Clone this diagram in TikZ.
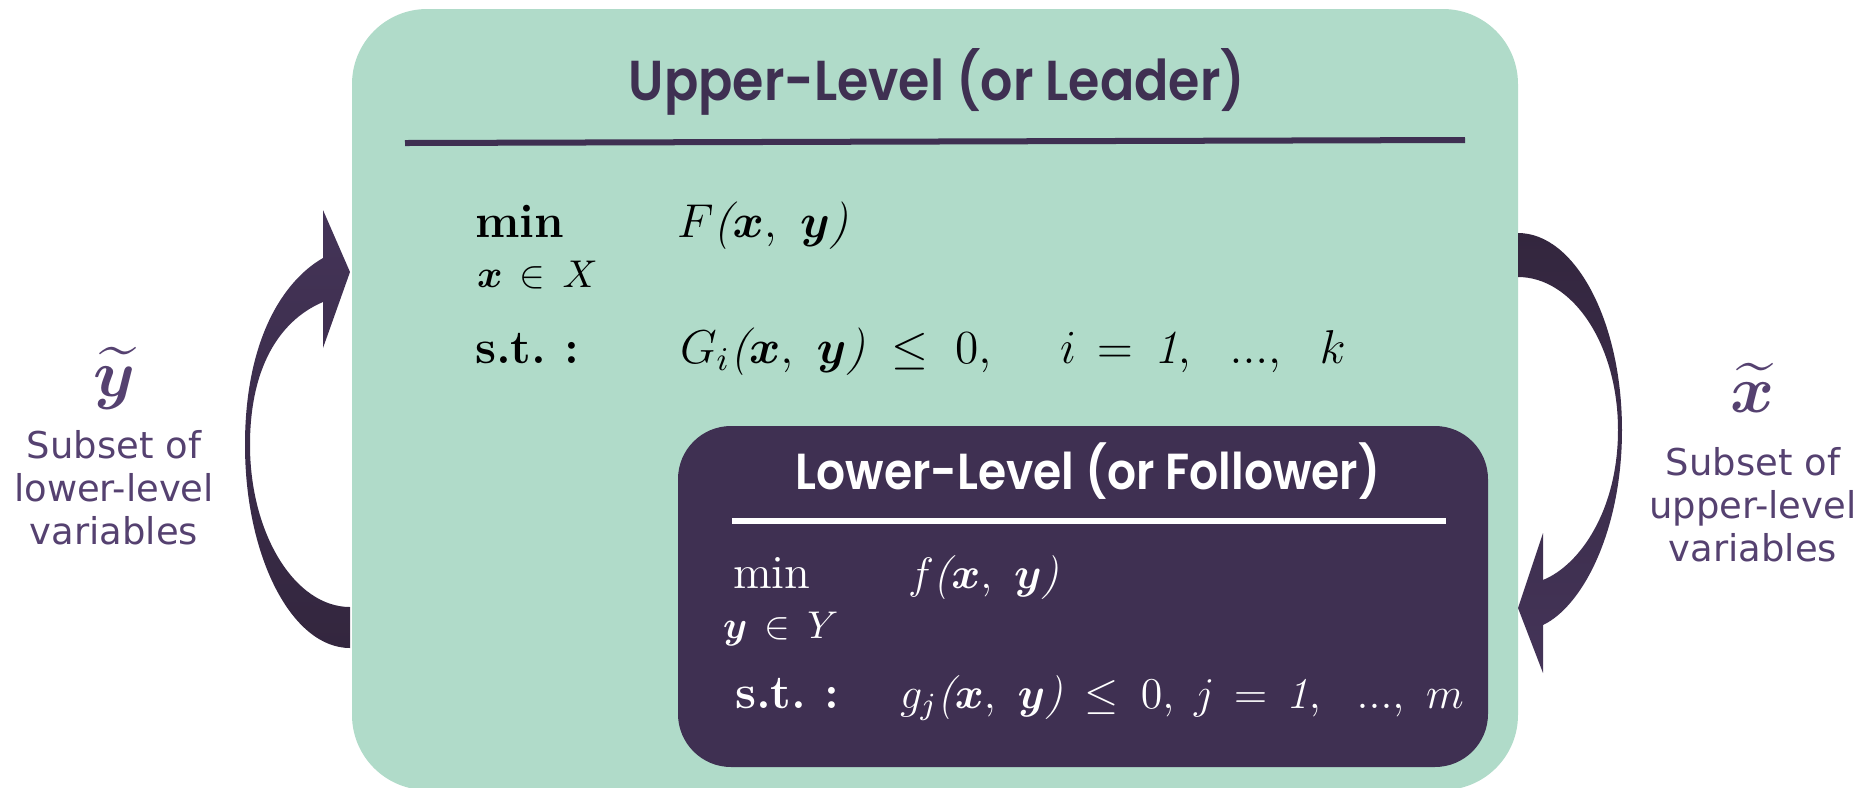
\RequirePackage{fix-cm}
\documentclass[tikz,border=0pt]{standalone}
\usepackage{amsmath}
\usepackage{amssymb}
\usepackage{fontspec}
\newfontfamily\titlefont{Poppins}[FakeStretch=0.9, BoldFont={Poppins SemiBold}]
\newfontfamily\sidefont{DejaVu Sans}

\definecolor{leadergreen}{RGB}{176,219,201}
\definecolor{followerpurple}{RGB}{63,48,82}
\definecolor{sidepurple}{RGB}{85,65,112}
\definecolor{arrowlight}{RGB}{68,52,88}
\definecolor{arrowdark}{RGB}{51,38,62}

\begin{document}
\begin{tikzpicture}[x=0.01cm, y=-0.01cm,
    every node/.style={inner sep=0pt, outer sep=0pt},
    titletext/.style={anchor=base, font=\titlefont\bfseries\fontsize{16}{19}\selectfont},
    mathtext/.style={anchor=base west, font=\fontsize{13.5}{16}\selectfont},
    lowmath/.style={anchor=base west, font=\fontsize{12.5}{15}\selectfont},
    subtext/.style={anchor=base west, font=\fontsize{11}{13}\selectfont},
    sidetext/.style={align=center, text=sidepurple, font=\sidefont\fontsize{10.5}{12.3}\selectfont},
    sidevar/.style={anchor=base, text=sidepurple, font=\fontsize{19}{22}\selectfont}]
  \useasboundingbox (0,0) rectangle (1862,787);

  % boxes
  \fill[leadergreen, rounded corners=0.75cm] (352,9) rectangle (1518,790);
  \fill[followerpurple, rounded corners=0.53cm] (678,426) rectangle (1488,767);

  % upper level
  \node[titletext, text=followerpurple] (utitle) at (937,100) {Upper-Level (or Leader)};
  \draw[followerpurple, line width=0.06cm] (405,143) -- (1465,140);
  \node[mathtext] (umin) at (475,237) {\textbf{min}};
  \node[subtext] (uset) at (477,287) {$\boldsymbol{x} \,\in\, X$};
  \node[mathtext] (uobj) at (677,237) {$F\textit{(}\boldsymbol{x},\ \boldsymbol{y}\textit{)}$};
  \node[mathtext] (ust) at (475,363) {\textbf{s.t.\ :}};
  \node[mathtext] (ucon) at (680,363) {$G_i\textit{(}\boldsymbol{x},\ \boldsymbol{y}\textit{)} \;\leq\; 0,$};
  \node[mathtext] (uidx) at (1060,363) {$i \,=\, \mathit{1},\ \ ...,\ \ k$};

  % lower level
  \node[titletext, text=white, font=\titlefont\bfseries\fontsize{14.4}{17}\selectfont] (ltitle) at (1088,489) {Lower-Level (or Follower)};
  \draw[white, line width=0.06cm] (732,521) -- (1446,521);
  \begin{scope}[text=white]
    \node[mathtext] (lmin) at (733,588) {min};
    \node[subtext] (lset) at (723,638) {$\boldsymbol{y} \,\in\, Y$};
    \node[lowmath] (lobj) at (908,588) {$f\textit{(}\boldsymbol{x},\ \boldsymbol{y}\textit{)}$};
    \node[mathtext] (lst) at (735,708) {\textbf{s.t.\ :}};
    \node[lowmath] (lcon) at (900,708) {$g_j\textit{(}\boldsymbol{x},\ \boldsymbol{y}\textit{)} \:\leq\: 0,$};
    \node[lowmath] (lidx) at (1194,708) {$j \,=\, \mathit{1},\ \ ...,\ m$};
  \end{scope}

  % feedback arrows
  \shade[top color=arrowlight, bottom color=arrowdark]
    (350,648) .. controls (292,648) and (245,557) .. (245,445)
    .. controls (245,340) and (283,281) .. (323,258)
    -- (323,210) -- (350,272) -- (323,348) -- (323,302)
    .. controls (285,318) and (250,360) .. (250,445)
    .. controls (250,534) and (295,607) .. (350,607) -- cycle;
  \shade[top color=arrowdark, bottom color=arrowlight]
    (1518,233) .. controls (1575,233) and (1622,321) .. (1622,430)
    .. controls (1622,530) and (1583,606) .. (1543,625)
    -- (1543,673) -- (1518,608) -- (1543,533) -- (1543,580)
    .. controls (1580,565) and (1618,510) .. (1618,430)
    .. controls (1618,345) and (1573,277) .. (1518,277) -- cycle;

  % side labels
  \node[sidevar] (ytil) at (114,396) {$\boldsymbol{\widetilde{y}}$};
  \node[sidetext, anchor=north] (ylab) at (114,430) {Subset of\\lower-level\\variables};
  \node[sidevar] (xtil) at (1753,412) {$\boldsymbol{\widetilde{x}}$};
  \node[sidetext, anchor=north] (xlab) at (1753,447) {Subset of\\upper-level\\variables};
\end{tikzpicture}
\end{document}
